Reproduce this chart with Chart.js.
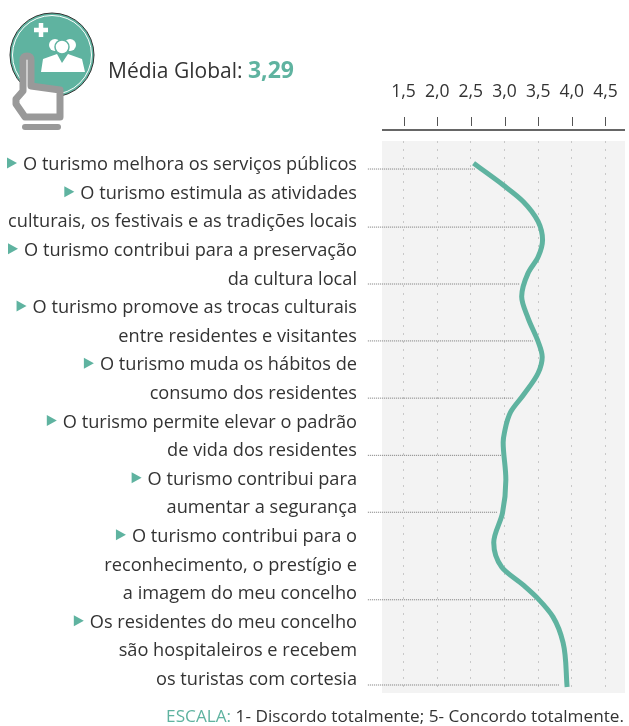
<!DOCTYPE html>
<html lang="pt">
<head>
<meta charset="utf-8">
<title>Média Global</title>
<script src="https://cdn.jsdelivr.net/npm/chart.js@4"></script>
<style>
    html, body { margin: 0; padding: 0; background: #fff; }
    body { position: relative; width: 629px; height: 726px; overflow: hidden; font-family: "Open Sans", sans-serif; color: #333; }
    canvas { position: absolute; left: 0; top: 0; }
    #icon { position: absolute; left: 0; top: 0; }
    #title { position: absolute; left: 108px; top: 55px; font-size: 21px; line-height: 28px; white-space: nowrap; }
    #title b { color: #5fb3a0; font-size: 23px; }
    #scale { position: absolute; right: 5px; top: 705px; font-size: 17.2px; line-height: 22px; white-space: nowrap; }
    #scale span { color: #5fb3a0; }
</style>
</head>
<body>
<canvas id="chart" width="629" height="726"></canvas>

<svg id="icon" width="110" height="140" viewBox="0 0 110 140">
    <circle cx="52" cy="55" r="42" fill="#5fb3a0" stroke="#333" stroke-width="1"/>
    <circle cx="52" cy="55" r="39.500" fill="none" stroke="#fff" stroke-width="1"/>
    <path d="M41 23v14M34 30h14" stroke="#fff" stroke-width="4.500" fill="none"/>
    <circle cx="55" cy="45" r="6" fill="#fff"/>
    <circle cx="70" cy="45" r="6" fill="#fff"/>
    <circle cx="62" cy="47" r="7" fill="#fff" stroke="#5fb3a0" stroke-width="1.500"/>
    <path d="M41 72l2-13 14-5 5 9 6-9 14 5 3 13z" fill="#fff"/>
    <path d="M23 60q0-4 4-4t4 4v26l29 4v27H25L16 104v-5l7-8z" fill="#fff" stroke="#999" stroke-width="7" stroke-linejoin="round"/>
    <path d="M25 127h33" stroke="#999" stroke-width="6" stroke-linecap="round"/>
</svg>

<div id="title">Média Global: <b>3,29</b></div>
<div id="scale"><span>ESCALA:</span> 1- Discordo totalmente; 5- Concordo totalmente.</div>

<script>
// -----------------------------------------------------------------------------
// DONNÉES
// -----------------------------------------------------------------------------

const textLines = [
    'O turismo melhora os serviços públicos',
    'O turismo estimula as atividades',
    'culturais, os festivais e as tradições locais',
    'O turismo contribui para a preservação',
    'da cultura local',
    'O turismo promove as trocas culturais',
    'entre residentes e visitantes',
    'O turismo muda os hábitos de',
    'consumo dos residentes',
    'O turismo permite elevar o padrão',
    'de vida dos residentes',
    'O turismo contribui para',
    'aumentar a segurança',
    'O turismo contribui para o',
    'reconhecimento, o prestígio e',
    'a imagem do meu concelho',
    'Os residentes do meu concelho',
    'são hospitaleiros e recebem',
    'os turistas com cortesia'
];

// lignes de texte qui ouvrent une affirmation (petit triangle devant)
const markerLines = [0, 1, 3, 5, 7, 9, 11, 13, 16];

const xTicks = [1.5, 2.0, 2.5, 3.0, 3.5, 4.0, 4.5];

// courbe : position verticale (en lignes de texte) et score
const curveRows = [-0.06, 0.7, 1.28, 1.98, 2.62, 3.21, 3.78, 4.6, 5.35, 6.18, 6.71, 7.27, 8.04, 8.64, 9.34, 9.7, 11.0, 12.17, 13.2, 14.06, 14.69, 15.17, 15.8, 16.7, 18.25];
const curveScores = [2.54, 2.98, 3.28, 3.5, 3.565, 3.5, 3.35, 3.255, 3.35, 3.5, 3.56, 3.5, 3.28, 3.09, 3.0, 2.98, 3.02, 2.97, 2.84, 2.96, 3.28, 3.5, 3.72, 3.87, 3.93];

// traits pointillés entre le texte et la courbe
const leaderRows = [0.14, 2.17, 4.16, 6.15, 8.15, 10.15, 12.14, 15.2, 18.18];
const leaderScores = [2.56, 3.45, 3.23, 3.42, 3.14, 2.96, 2.9, 3.45, 3.82];
const leaderStart = 0.97;

// -----------------------------------------------------------------------------
// PLUGIN : fond gris, axe du haut, triangles
// -----------------------------------------------------------------------------

const TEAL = '#5fb3a0';

const decorPlugin = {
    id: 'decor',
    beforeDraw(chart) {
        const { ctx, chartArea: a } = chart;
        ctx.save();
        ctx.fillStyle = '#f3f3f3';
        ctx.fillRect(a.left, a.top, a.right - a.left, a.bottom - a.top);
        ctx.restore();
    },
    afterDraw(chart) {
        const { ctx, chartArea: a, scales } = chart;
        ctx.save();

        // ligne d'axe et graduations, décalées au-dessus de la zone grise
        ctx.strokeStyle = '#333';
        ctx.lineWidth = 1.5;
        ctx.beginPath();
        ctx.moveTo(a.left, a.top - 11);
        ctx.lineTo(a.right, a.top - 11);
        ctx.stroke();

        ctx.lineWidth = 1;
        ctx.strokeStyle = '#555';
        xTicks.forEach(t => {
            const x = Math.round(scales.x.getPixelForValue(t)) + 0.5;
            ctx.beginPath();
            ctx.moveTo(x, a.top - 24);
            ctx.lineTo(x, a.top - 15);
            ctx.stroke();
        });

        // triangles devant les affirmations
        ctx.font = chart.options.scales.y.ticks.font.size + 'px "Open Sans"';
        ctx.fillStyle = TEAL;
        markerLines.forEach(i => {
            const y = scales.y.getPixelForValue(i) - 2;
            const right = a.left - chart.options.scales.y.ticks.padding;
            const x = right - ctx.measureText(textLines[i]).width - 16;
            ctx.beginPath();
            ctx.moveTo(x, y - 5.5);
            ctx.lineTo(x + 10, y);
            ctx.lineTo(x, y + 5.5);
            ctx.closePath();
            ctx.fill();
        });

        ctx.restore();
    }
};

// -----------------------------------------------------------------------------
// GRAPHIQUE
// -----------------------------------------------------------------------------

const leaderSets = leaderRows.map((row, i) => ({
    data: [{ x: leaderStart, y: row }, { x: leaderScores[i], y: row }],
    borderColor: '#777',
    borderWidth: 1,
    borderDash: [1, 1],
    pointRadius: 0,
    tension: 0,
    clip: false
}));

new Chart(document.getElementById('chart'), {
    type: 'line',
    data: {
        datasets: [
            {
                data: curveRows.map((row, i) => ({ x: curveScores[i], y: row })),
                borderColor: TEAL,
                borderWidth: 5,
                pointRadius: 0,
                cubicInterpolationMode: 'monotone'
            },
            ...leaderSets
        ]
    },
    options: {
        responsive: false,
        animation: false,
        indexAxis: 'y',
        layout: { autoPadding: false, padding: { left: 0, right: 4, top: 0, bottom: 33 } },
        plugins: { legend: { display: false }, tooltip: { enabled: false } },
        scales: {
            x: {
                type: 'linear',
                position: 'top',
                min: 1.18,
                max: 4.79,
                afterBuildTicks: scale => { scale.ticks = xTicks.map(value => ({ value })); },
                afterFit: scale => { scale.height = 141; scale.paddingLeft = 0; scale.paddingRight = 0; },
                border: { display: false, dash: [2, 6] },
                grid: { color: '#c8c8c8', drawTicks: false, tickLength: 0 },
                ticks: {
                    color: '#333',
                    font: { family: '"Open Sans"', size: 17.5 },
                    padding: 38,
                    maxRotation: 0,
                    callback: value => value.toFixed(1).replace('.', ',')
                }
            },
            y: {
                type: 'linear',
                reverse: true,
                min: -0.84,
                max: 18.46,
                afterBuildTicks: scale => { scale.ticks = textLines.map((_, value) => ({ value })); },
                afterFit: scale => { scale.width = 382; scale.paddingTop = 0; scale.paddingBottom = 0; },
                border: { display: false },
                grid: { display: false, drawTicks: false, tickLength: 0 },
                ticks: {
                    color: '#333',
                    font: { family: '"Open Sans"', size: 18.2 },
                    padding: 25,
                    autoSkip: false,
                    callback: value => textLines[value]
                }
            }
        }
    },
    plugins: [decorPlugin]
});
</script>
</body>
</html>
